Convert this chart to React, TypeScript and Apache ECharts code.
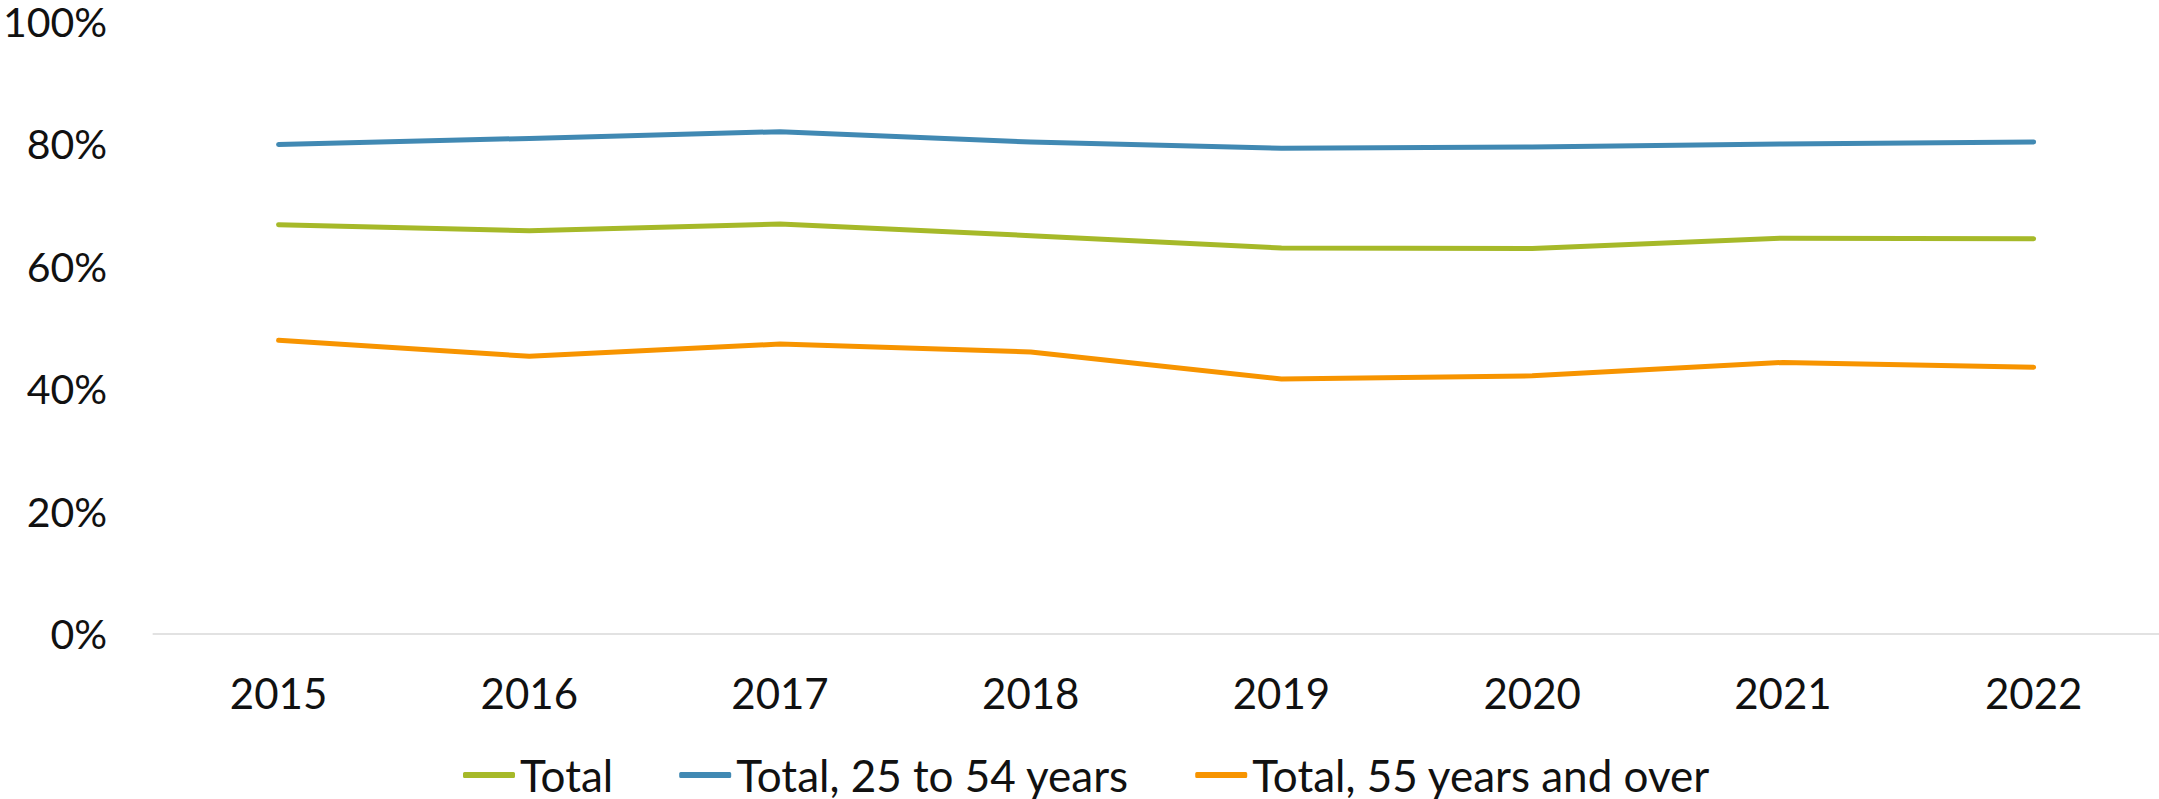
import React, { useEffect, useRef } from "react";
import * as echarts from "echarts";

const years = ["2015", "2016", "2017", "2018", "2019", "2020", "2021", "2022"];
const total = [66.8, 65.8, 66.9, 65.0, 63.0, 62.9, 64.6, 64.5];
const age25to54 = [79.9, 80.9, 82.0, 80.3, 79.3, 79.5, 80.0, 80.3];
const age55plus = [47.9, 45.3, 47.3, 46.0, 41.6, 42.1, 44.3, 43.5];
const seriesNames = ["Total", "Total, 25 to 54 years", "Total, 55 years and over"];
const colors = ["#A6B929", "#4189B3", "#F79400"];

const FONT = "Lato";

export default function App() {
  const ref = useRef<HTMLDivElement>(null);
  useEffect(() => {
    if (!ref.current) return;
    const chart = echarts.init(ref.current, null, { renderer: "svg" });
    const mk = (name: string, data: number[], color: string) => ({
      name,
      type: "line",
      data,
      symbol: "none",
      showSymbol: false,
      lineStyle: { color, width: 5, cap: "round", join: "round" },
      itemStyle: { color },
    });
    chart.setOption({
      animation: false,
      backgroundColor: "#ffffff",
      textStyle: { fontFamily: FONT },
      grid: { left: 153, right: 0, top: 21.5, bottom: 165.5, containLabel: false },
      xAxis: {
        type: "category",
        data: years,
        boundaryGap: true,
        axisLine: { show: true, lineStyle: { color: "#D9D9D9", width: 1.5 } },
        axisTick: { show: false },
        axisLabel: { color: "#111111", fontSize: 42, fontFamily: FONT, margin: 38 },
      },
      yAxis: {
        type: "value",
        min: 0,
        max: 100,
        interval: 20,
        axisLine: { show: false },
        axisTick: { show: false },
        splitLine: { show: false },
        axisLabel: {
          color: "#111111",
          fontSize: 41,
          fontFamily: FONT,
          lineHeight: 38,
          margin: 46,
          formatter: "{value}%",
        },
      },
      legend: {
        data: seriesNames.map((n) => ({ name: n, icon: "roundRect" })),
        left: 458,
        top: 748,
        itemWidth: 52,
        itemHeight: 6,
        itemGap: 66,
        textStyle: { color: "#111111", fontSize: 44, fontFamily: FONT, lineHeight: 44 },
      },
      series: [
        mk(seriesNames[0], total, colors[0]),
        mk(seriesNames[1], age25to54, colors[1]),
        mk(seriesNames[2], age55plus, colors[2]),
      ],
    });
    return () => chart.dispose();
  }, []);
  return (
    <div
      ref={ref}
      style={{ position: "fixed", left: 0, top: 0, width: 2159, height: 799 }}
    />
  );
}
